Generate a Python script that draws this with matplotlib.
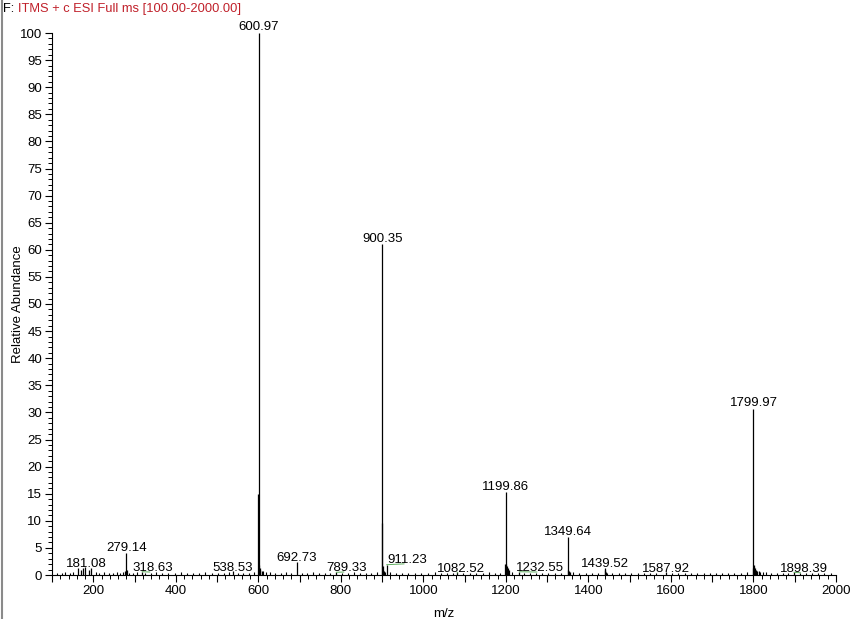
import matplotlib
matplotlib.use('Agg')
import matplotlib.pyplot as plt
from matplotlib.ticker import MultipleLocator, FixedLocator, FuncFormatter
from matplotlib.lines import Line2D

plt.rcParams['font.family'] = ['Liberation Sans', 'DejaVu Sans']

# Picos etiquetados (m/z, abundancia relativa)
peak_mz = [181.08, 279.14, 318.63, 538.53, 600.97, 692.73, 789.33, 900.35, 911.23,
           1082.52, 1199.86, 1232.55, 1349.64, 1439.52, 1587.92, 1799.97, 1898.39]
peak_int = [1.4, 4.1, 0.6, 0.7, 100.0, 2.4, 0.5, 61.0, 1.9,
            0.5, 15.3, 0.6, 7.0, 1.3, 0.5, 30.6, 0.5]

# Picos sin etiqueta (isotopos y hombros)
side_mz = [163.0, 170.5, 175.2, 188.6, 195.3, 277.2, 281.1,
           599.0, 601.9, 603.2, 604.8, 608.5,
           899.4, 901.3, 902.4, 905.0,
           1198.9, 1200.9, 1202.1, 1204.5, 1208.0,
           1350.6, 1352.4, 1355.5, 1440.6, 1442.3,
           1798.9, 1800.9, 1802.0, 1803.6, 1805.3, 1807.9, 1812.4]
side_int = [1.3, 0.9, 1.3, 1.0, 1.3, 0.7, 0.9,
            15.0, 1.8, 1.2, 0.9, 0.7,
            9.6, 1.6, 1.0, 0.7,
            2.0, 2.1, 1.6, 1.3, 1.0,
            1.0, 0.8, 0.6, 0.9, 0.6,
            1.2, 1.8, 1.5, 1.3, 1.0, 0.8, 0.7]

# Ruido de linea base
noise_mz = [112, 124, 131, 143, 152, 207, 214, 226, 237, 249, 258, 266, 272, 287, 296,
            305, 326, 339, 352, 367, 381, 398, 412, 427, 441, 456, 470, 488, 503, 517,
            529, 551, 563, 577, 589, 612, 619, 628, 641, 655, 668, 679, 706, 718, 733,
            747, 761, 774, 802, 817, 832, 846, 861, 874, 888, 908, 918, 933, 948, 963,
            979, 994, 1012, 1027, 1043, 1058, 1071, 1097, 1113, 1128, 1144, 1159, 1173,
            1186, 1214, 1245, 1259, 1274, 1288, 1303, 1318, 1334, 1363, 1378, 1394, 1409,
            1424, 1446, 1458, 1473, 1489, 1504, 1519, 1534, 1549, 1563, 1603, 1618, 1633,
            1648, 1664, 1679, 1694, 1709, 1724, 1739, 1754, 1769, 1784, 1817, 1822, 1831,
            1843, 1857, 1871, 1884, 1912, 1927, 1942, 1957, 1972, 1988]
noise_int = [0.4, 0.3, 0.5, 0.4, 0.6, 0.5, 0.4, 0.5, 0.3, 0.4, 0.5, 0.4, 0.6, 0.4, 0.3,
             0.5, 0.4, 0.3, 0.5, 0.4, 0.3, 0.4, 0.5, 0.3, 0.4, 0.3, 0.5, 0.4, 0.3, 0.4,
             0.5, 0.4, 0.3, 0.4, 0.5, 0.8, 0.6, 0.5, 0.4, 0.3, 0.5, 0.4, 0.3, 0.4, 0.5,
             0.3, 0.4, 0.3, 0.4, 0.3, 0.5, 0.4, 0.3, 0.4, 0.5, 0.6, 0.5, 0.4, 0.3, 0.4,
             0.3, 0.4, 0.3, 0.5, 0.3, 0.4, 0.3, 0.4, 0.3, 0.4, 0.3, 0.5, 0.4,
             0.3, 0.6, 0.4, 0.3, 0.4, 0.3, 0.4, 0.3, 0.4, 0.5, 0.4, 0.3, 0.4,
             0.3, 0.4, 0.3, 0.4, 0.3, 0.4, 0.3, 0.4, 0.3, 0.4, 0.3, 0.4, 0.3,
             0.4, 0.3, 0.4, 0.3, 0.4, 0.3, 0.4, 0.3, 0.4, 0.5, 0.6, 0.5, 0.5,
             0.4, 0.4, 0.3, 0.4, 0.3, 0.4, 0.3, 0.4, 0.3, 0.4]

# Posicion de las etiquetas (centro x, linea base y)
lab_x = [184, 280, 345, 539, 601.8, 694, 815, 900.35, 961,
         1091, 1200, 1283, 1351, 1441, 1588, 1799.97, 1922]
lab_y = [1.5, 4.4, 0.7, 0.7, 100.6, 2.6, 0.7, 61.4, 2.2,
         0.55, 15.6, 0.7, 7.4, 1.5, 0.55, 31.2, 0.55]
leaders = [318.63, 789.33, 911.23, 1082.52, 1232.55, 1898.39]

fig = plt.figure(figsize=(8.56, 6.19), dpi=100)
ax = fig.add_axes([52 / 856, 1 - 575 / 619, 784 / 856, 542 / 619])

ax.vlines(noise_mz, 0, noise_int, color='black', lw=0.8)
ax.vlines(side_mz, 0, side_int, color='black', lw=0.9)
ax.vlines(peak_mz, 0, peak_int, color='black', lw=0.9)

for mz, inten, lx, ly in zip(peak_mz, peak_int, lab_x, lab_y):
    ax.text(lx, ly, f'{mz:.2f}', ha='center', va='baseline', fontsize=9.5, clip_on=False)
    if mz in leaders:
        ax.plot([mz, lx - 8], [inten, ly - 0.15], color='#5fae5f', lw=0.7)

ax.set_xlim(100, 2000)
ax.set_ylim(0, 100)

# Ejes estilo Xcalibur
ax.spines['top'].set_visible(False)
ax.spines['right'].set_visible(False)
ax.spines['left'].set_linewidth(0.8)
ax.spines['bottom'].set_linewidth(0.8)

ax.xaxis.set_major_locator(FixedLocator(list(range(100, 2001, 100))))
ax.xaxis.set_major_formatter(FuncFormatter(lambda v, p: f'{int(v)}' if v % 200 == 0 else ''))
ax.xaxis.set_minor_locator(MultipleLocator(20))
ax.yaxis.set_major_locator(MultipleLocator(5))
ax.yaxis.set_minor_locator(MultipleLocator(1))
ax.tick_params(axis='both', which='major', direction='out', length=5, width=0.8, labelsize=9.5, pad=2)
ax.tick_params(axis='both', which='minor', direction='out', length=3, width=0.7)

ax.set_xlabel('m/z', fontsize=9.5)
ax.xaxis.set_label_coords(0.5, -0.06)
ax.set_ylabel('Relative Abundance', fontsize=9.5)
ax.yaxis.set_label_coords(-0.036, 0.5)

# Titulo del scan
fig.text(3 / 856, 1 - 9 / 619, 'F:', fontsize=9.3, va='center', ha='left', color='black')
fig.text(18 / 856, 1 - 9 / 619, 'ITMS + c ESI Full ms [100.00-2000.00]', fontsize=9.3,
         va='center', ha='left', color='#c0202a')

# Borde gris a la izquierda
fig.add_artist(Line2D([1.5 / 856, 1.5 / 856], [0, 1], transform=fig.transFigure, color='#8a8a8a', lw=1.5))

fig.savefig('out.png', dpi=100)
